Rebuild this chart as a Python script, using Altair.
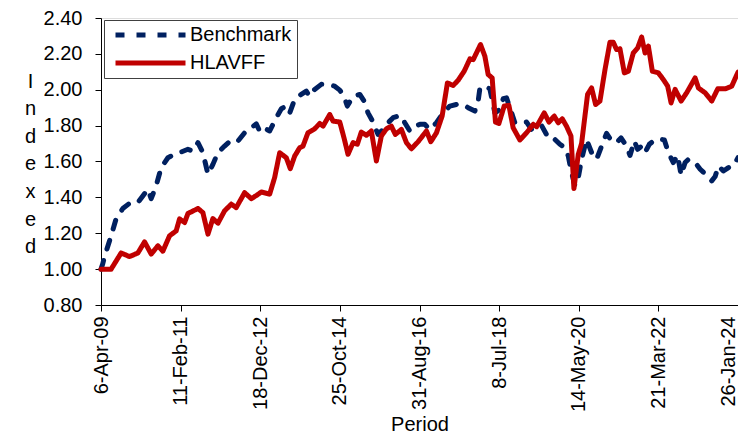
import altair as alt
import pandas as pd

START = "2009-04-06"
SERIES = ["Benchmark", "HLAVFF"]
COLORS = ["#002060", "#C00000"]
TICK_DATES = [(2009, 4, 6), (2011, 2, 11), (2012, 12, 18), (2014, 10, 25), (2016, 8, 31),
              (2018, 7, 8), (2020, 5, 14), (2022, 3, 21), (2024, 1, 26)]
Y_TICKS = [0.8, 1.0, 1.2, 1.4, 1.6, 1.8, 2.0, 2.2, 2.4]

# days since 6-Apr-09 and indexed values
bench_days = [0, 15, 30, 86, 128, 185, 242, 313, 355, 398, 426, 468, 511, 568, 625, 681, 738, 780,
              823, 865, 908, 950, 993, 1049, 1106, 1163, 1219, 1276, 1318, 1347, 1375, 1432, 1488,
              1531, 1573, 1602, 1644, 1700, 1743, 1772, 1814, 1870, 1927, 1984, 2027, 2063, 2091,
              2140, 2197, 2233, 2267, 2310, 2352, 2395, 2437, 2480, 2522, 2550, 2579, 2622, 2664,
              2707, 2749, 2792, 2848, 2905, 2962, 3018, 3075, 3117, 3174, 3202, 3217, 3259, 3301,
              3344, 3386, 3415, 3443, 3471, 3514, 3570, 3613, 3655, 3698, 3740, 3782, 3825, 3854,
              3896, 3939, 3967, 3995, 4024, 4052, 4080, 4122, 4165, 4207, 4245, 4292, 4335, 4377,
              4415, 4462, 4491, 4528, 4556, 4590, 4619, 4655, 4689, 4732, 4783, 4817, 4859, 4896,
              4925, 4959, 4987, 5044, 5087, 5142, 5185, 5214, 5242, 5284, 5327, 5369, 5408]
bench_vals = [1.00, 1.03, 1.07, 1.186, 1.28, 1.338, 1.367, 1.371, 1.408, 1.445, 1.393, 1.464, 1.566,
              1.621, 1.64, 1.653, 1.668, 1.658, 1.705, 1.65, 1.529, 1.584, 1.65, 1.686, 1.72, 1.714,
              1.76, 1.788, 1.81, 1.77, 1.79, 1.77, 1.844, 1.894, 1.909, 1.871, 1.946, 1.974, 1.992,
              1.964, 2.002, 2.03, 2.03, 2.02, 1.998, 1.964, 1.909, 1.964, 1.974, 1.937, 1.871, 1.82,
              1.751, 1.779, 1.816, 1.844, 1.853, 1.853, 1.816, 1.77, 1.797, 1.807, 1.807, 1.779,
              1.816, 1.871, 1.909, 1.918, 1.918, 1.90, 1.881, 1.937, 2.01, 2.02, 2.005, 1.871, 1.89,
              1.95, 1.955, 1.90, 1.816, 1.82, 1.82, 1.779, 1.782, 1.801, 1.751, 1.751, 1.723, 1.696,
              1.677, 1.63, 1.538, 1.464, 1.51, 1.612, 1.723, 1.65, 1.612, 1.677, 1.757, 1.714, 1.705,
              1.732, 1.686, 1.634, 1.714, 1.668, 1.686, 1.65, 1.696, 1.714, 1.727, 1.72, 1.65, 1.594,
              1.634, 1.523, 1.594, 1.612, 1.594, 1.557, 1.523, 1.492, 1.516, 1.575, 1.547, 1.566,
              1.575, 1.621]

fund_days = [0, 86, 171, 242, 313, 370, 426, 483, 525, 582, 638, 667, 710, 738, 823, 865, 908, 950,
             993, 1049, 1106, 1148, 1219, 1276, 1318, 1361, 1432, 1474, 1517, 1573, 1607, 1644,
             1687, 1715, 1757, 1814, 1857, 1885, 1942, 1970, 2027, 2063, 2097, 2140, 2176, 2210,
             2253, 2295, 2338, 2380, 2423, 2465, 2499, 2550, 2593, 2635, 2692, 2763, 2800, 2848,
             2896, 2941, 2990, 3032, 3083, 3132, 3160, 3222, 3259, 3287, 3321, 3349, 3378, 3423,
             3463, 3499, 3556, 3613, 3670, 3698, 3763, 3803, 3848, 3882, 3916, 3952, 3990, 4015,
             4052, 4080, 4131, 4165, 4199, 4236, 4279, 4321, 4349, 4377, 4406, 4443, 4477, 4519,
             4556, 4590, 4619, 4647, 4681, 4732, 4774, 4811, 4840, 4874, 4925, 4972, 5044, 5072,
             5129, 5185, 5236, 5299, 5355, 5408]
fund_vals = [1.00, 1.00, 1.09, 1.07, 1.09, 1.152, 1.084, 1.13, 1.10, 1.186, 1.213, 1.28, 1.26, 1.31,
             1.338, 1.315, 1.195, 1.282, 1.256, 1.325, 1.362, 1.343, 1.426, 1.393, 1.41, 1.43, 1.418,
             1.51, 1.649, 1.621, 1.56, 1.63, 1.677, 1.686, 1.76, 1.782, 1.812, 1.797, 1.862, 1.825,
             1.82, 1.732, 1.64, 1.705, 1.696, 1.764, 1.746, 1.77, 1.603, 1.742, 1.782, 1.797, 1.751,
             1.779, 1.705, 1.671, 1.71, 1.77, 1.71, 1.76, 1.853, 2.038, 2.024, 2.053, 2.103, 2.172,
             2.168, 2.252, 2.187, 2.085, 2.066, 1.82, 1.812, 1.909, 1.913, 1.788, 1.72, 1.76, 1.807,
             1.794, 1.871, 1.82, 1.853, 1.816, 1.838, 1.797, 1.742, 1.449, 1.64, 1.70, 1.974, 2.01,
             1.918, 1.937, 2.113, 2.265, 2.265, 2.224, 2.228, 2.094, 2.103, 2.205, 2.233, 2.294,
             2.205, 2.243, 2.103, 2.094, 2.057, 2.02, 1.927, 2.002, 1.937, 1.983, 2.066, 2.01, 1.983,
             1.937, 2.005, 2.005, 2.02, 2.098]

start = pd.Timestamp(START)
frames = []
for name, days, vals in [(SERIES[0], bench_days, bench_vals), (SERIES[1], fund_days, fund_vals)]:
    frames.append(pd.DataFrame({
        "date": start + pd.to_timedelta(days, unit="D"),
        "value": vals,
        "series": name,
    }))
df = pd.concat(frames, ignore_index=True)

tick_values = [alt.DateTime(year=y, month=m, date=d) for (y, m, d) in TICK_DATES]
FONT = "Liberation Sans"

legend = alt.Legend(
    title=None, orient="none", legendX=3, legendY=2,
    symbolType="M-1,0H9.77", symbolSize=169, symbolStrokeWidth=5, symbolOffset=3,
    labelOffset=58, labelFontSize=20, labelFont=FONT, labelColor="black",
    padding=5, rowPadding=8, fillColor="white", strokeColor="#404040",
)

chart = alt.Chart(df).mark_line(strokeWidth=5, strokeCap="round", strokeJoin="round").encode(
    x=alt.X("date:T",
            scale=alt.Scale(domain=[tick_values[0], tick_values[-1]], nice=False),
            axis=alt.Axis(title="Period", values=tick_values, format="%-d-%b-%y",
                          labelAngle=270, labelFontSize=20, labelPadding=5, tickSize=6,
                          labelBaseline={"condition": {"test": "datum.index > 0.99",
                                                       "value": "bottom"},
                                         "value": "middle"},
                          titleFontSize=20, titleFontWeight="normal", titlePadding=3,
                          grid=False, domainColor="black", tickColor="black",
                          labelColor="black", titleColor="black",
                          labelFont=FONT, titleFont=FONT)),
    y=alt.Y("value:Q",
            scale=alt.Scale(domain=[0.8, 2.4], nice=False, zero=False),
            axis=alt.Axis(title=["I", "n", "d", "e", "x", "e", "d"], values=Y_TICKS,
                          format=".2f", labelFontSize=20, labelPadding=13, tickSize=6,
                          titleAngle=0, titleX=-71, titleY=69, titleAlign="center",
                          titleBaseline="alphabetic", titleLineHeight=27.6,
                          titleFontSize=20, titleFontWeight="normal", grid=False,
                          domainColor="black", tickColor="black", labelColor="black",
                          titleColor="black", labelFont=FONT, titleFont=FONT)),
    color=alt.Color("series:N", scale=alt.Scale(domain=SERIES, range=COLORS), legend=legend),
    strokeDash=alt.StrokeDash("series:N",
                              scale=alt.Scale(domain=SERIES, range=[[9, 12], [1, 0]]),
                              legend=legend),
).properties(
    width=637, height=287,
    autosize=alt.AutoSizeParams(type="none"),
    padding={"left": 93, "top": 10, "right": 0, "bottom": 129},
).configure_view(
    fill="#B7DDE8", stroke="#404040", strokeWidth=1.5
).configure(font=FONT)

chart.save("out.html", embed_options={"renderer": "svg", "actions": False})
